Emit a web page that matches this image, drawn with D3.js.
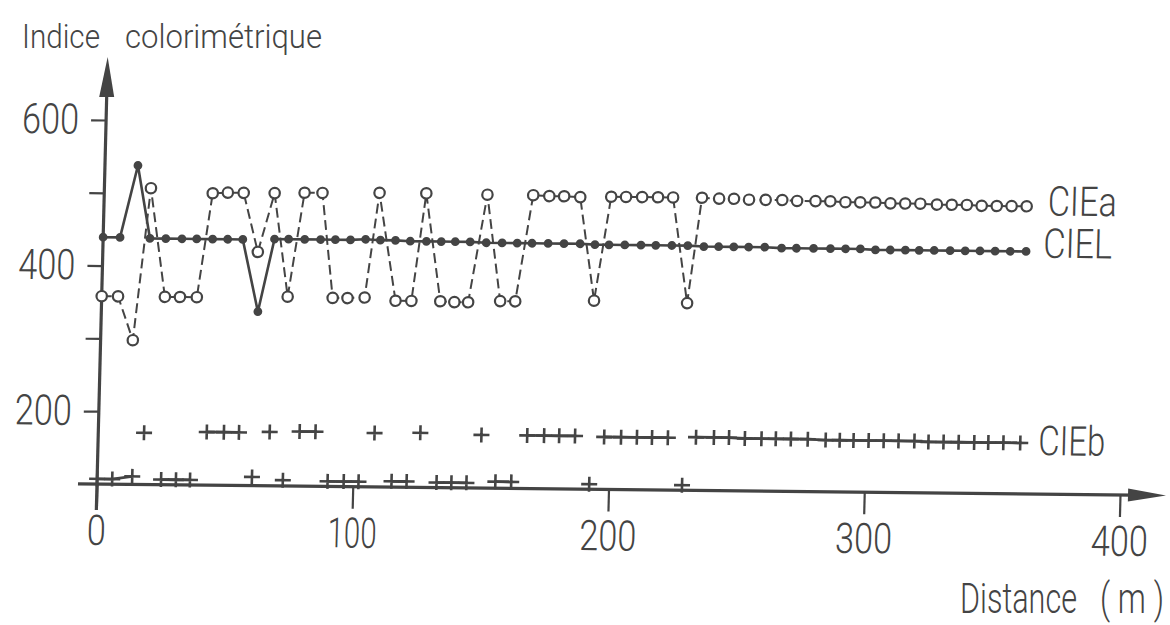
<!DOCTYPE html>
<html>
<head>
<meta charset="utf-8">
<script src="https://cdn.jsdelivr.net/npm/d3@7"></script>
<style>
  html, body { margin: 0; padding: 0; background: #fff; }
  svg text { font-family: Roboto, "DejaVu Sans Condensed", sans-serif; font-weight: 300; fill: #444; }
</style>
</head>
<body>
<svg width="1170" height="625"></svg>
<script>
'use strict';

// distances (m) and colorimetric values
var cieaDist = [0, 6.4, 12.6, 18.2, 24.7, 30.6, 37.2, 42.4, 48.3, 54.5,
    60.6, 66.6, 72.7, 78.3, 85.3, 90.3, 96.1, 102.8, 107.6, 114.9,
    121.1, 125.9, 132.4, 137.9, 143.3, 149.8, 155.8, 161.7, 167.7, 174,
    179.8, 186.1, 192.5, 198.2, 204, 210.3, 216.5, 222.4, 228.9, 233.7,
    240.4, 246.2, 252.1, 258.6, 265.1, 270.9, 278.1, 283.9, 289.8, 295.6,
    301.5, 307.4, 313.2, 319.1, 325.6, 331.4, 337.3, 343.1, 349, 354.8, 360.7];
var cieaVal = [358, 358, 298, 507, 358, 358, 358, 501, 502, 502,
    421, 502, 360, 503, 503, 359, 359, 360, 504, 356,
    356, 504, 356, 355, 355, 503, 357, 357, 503, 502,
    502, 501, 359, 502, 502, 502, 502, 502, 357, 502,
    501, 501, 500, 500, 500, 499, 499, 499, 498, 498,
    498, 497, 497, 497, 496, 496, 496, 495, 495, 495, 495];

var cielDist = [0, 6.6, 12.9, 18.3, 24.5, 30.8, 36.6, 42.8, 48.7, 54.6,
    61.2, 67, 72.5, 78.8, 85, 90.8, 96.7, 102.6, 108.4, 114.3,
    120.1, 126.4, 132.2, 137.7, 143.5, 149.8, 156, 161.9, 167.7, 174,
    180.2, 186.5, 192.3, 197.8, 204, 210.3, 216.1, 222.4, 228.6, 234.9,
    240.7, 246.6, 252.4, 258.7, 265.3, 271.1, 277.8, 284.4, 290.3, 296.1,
    302, 307.8, 313.7, 319.1, 325, 331.2, 337.1, 342.9, 348.8, 354.7, 360.9];
var cielVal = [439, 439, 538, 438, 438, 438, 438, 438, 438, 438,
    339, 439, 439, 439, 439, 439, 439, 440, 439, 439,
    438, 438, 438, 438, 438, 437, 437, 437, 437, 437,
    437, 437, 436, 436, 436, 436, 436, 436, 436, 435,
    435, 435, 435, 435, 434, 434, 434, 434, 434, 434,
    433, 433, 433, 433, 433, 433, 433, 433, 433, 433, 433];

var ciebDist = [0, 5.9, 13.7, 17.9, 25, 30.8, 36.3, 42.4, 49.1, 55,
    60.5, 67, 72.6, 78.7, 84.9, 90.1, 96.4, 102.2, 108, 115.1,
    121, 125.9, 132.7, 138.5, 144.4, 149.8, 155.7, 161.9, 167.7, 174.3,
    180.2, 186.4, 192.4, 197.8, 204.4, 210.6, 216.5, 222.7, 228.7, 233.7,
    240.7, 246.6, 252.8, 259.3, 264.9, 270.8, 277.4, 284.4, 289.9, 295.3,
    301.2, 307.1, 312.9, 319.1, 324.6, 330.5, 336.4, 342.5, 348, 353.9, 360.5];
var ciebVal = [107, 107, 111, 171, 107, 107, 107, 173, 173, 173,
    112, 174, 108, 175, 175, 107, 107, 107, 174, 108,
    108, 175, 107, 107, 107, 173, 109, 109, 173, 173,
    173, 173, 107, 172, 172, 172, 172, 172, 107, 173,
    173, 173, 172, 172, 172, 172, 172, 171, 171, 171,
    171, 171, 171, 171, 170, 170, 170, 170, 170, 170, 170];

var xTicks = [0, 100, 200, 300, 400];
var yTicks = [200, 300, 400, 500, 600];
var yLabelled = [200, 400, 600];

var INK = '#444';

var svg = d3.select('svg');

var x = d3.scaleLinear().domain([0, 400]).range([97, 1120]);
var y = d3.scaleLinear().domain([100, 600]).range([484, 120]);

function zip(ds, vs) {
    return ds.map(function(d, i) { return { d: d, v: vs[i] }; });
}
var ciea = zip(cieaDist, cieaVal);
var ciel = zip(cielDist, cielVal);
var cieb = zip(ciebDist, ciebVal);

//squeeze a text horizontally to a given width (the scan uses a narrow stencil font)
function squeeze(sel, width) {
    sel.each(function(d, i) {
        var t = d3.select(this);
        var w = this.getComputedTextLength();
        var target = typeof width === 'function' ? width.call(this, d, i) : width;
        if (w > 0 && target > 0) {
            var x0 = +t.attr('x') || 0;
            t.attr('x', 0)
                .attr('transform', 'translate(' + x0 + ',0) scale(' + (target / w) + ',1)');
        }
    });
}

function digitWidth() {
    var s = this.textContent;
    return s.length * 19 - (s.split('1').length - 1) * 8;
}

// the scanned figure is slightly sheared, so the plot sits in a skewed group
var chart = svg.append('g')
    .attr('transform', 'translate(97,484) matrix(1,0.0107,-0.025,1,0,0) translate(-97,-484)');

//axes
var axisX = d3.axisBottom(x)
    .tickValues(xTicks)
    .tickSize(22)
    .tickPadding(9);

var axisY = d3.axisLeft(y)
    .tickValues(yTicks)
    .tickSize(15)
    .tickPadding(12)
    .tickFormat(function(d) { return yLabelled.indexOf(d) >= 0 ? d : ''; });

var gx = chart.append('g')
    .attr('transform', 'translate(0,' + y(100) + ')')
    .call(axisX);
var gy = chart.append('g')
    .attr('transform', 'translate(' + x(0) + ',0)')
    .call(axisY);

[gx, gy].forEach(function(g) {
    g.select('.domain').remove();
    g.selectAll('line').attr('stroke', INK).attr('stroke-width', 2.2);
    g.selectAll('text')
        .attr('fill', INK)
        .style('font-size', '42px')
        .call(squeeze, digitWidth);
});

chart.append('line')
    .attr('x1', 78).attr('x2', 1132)
    .attr('y1', y(100)).attr('y2', y(100))
    .attr('stroke', INK).attr('stroke-width', 3.2);
chart.append('path')
    .attr('d', 'M1128,' + (y(100) - 6.5) + 'L1166,' + y(100) + 'L1128,' + (y(100) + 6.5) + 'Z')
    .attr('fill', INK);

chart.append('line')
    .attr('x1', x(0)).attr('x2', x(0))
    .attr('y1', 510).attr('y2', 92)
    .attr('stroke', INK).attr('stroke-width', 3.2);
chart.append('path')
    .attr('d', 'M' + (x(0) - 7.5) + ',97L' + x(0) + ',57L' + (x(0) + 7.5) + ',97Z')
    .attr('fill', INK);

//CIEb: plus marks, joined only between neighbours on the same level
var linkB = d3.pairs(cieb).filter(function(p) { return Math.abs(p[0].v - p[1].v) < 30; });
chart.append('g').selectAll('line')
    .data(linkB)
    .enter()
    .append('line')
    .attr('x1', function(p) { return x(p[0].d); })
    .attr('y1', function(p) { return y(p[0].v); })
    .attr('x2', function(p) { return x(p[1].d); })
    .attr('y2', function(p) { return y(p[1].v); })
    .attr('stroke', INK)
    .attr('stroke-width', 2.8);

chart.append('g').selectAll('path')
    .data(cieb)
    .enter()
    .append('path')
    .attr('transform', function(d) { return 'translate(' + x(d.d) + ',' + y(d.v) + ')'; })
    .attr('d', 'M-8,0H8M0,-7.5V7.5')
    .attr('stroke', INK)
    .attr('stroke-width', 2.6)
    .attr('fill', 'none');

var line = d3.line()
    .x(function(d) { return x(d.d); })
    .y(function(d) { return y(d.v); });

//CIEL: solid line, filled dots
chart.append('path')
    .datum(ciel)
    .attr('d', line)
    .attr('fill', 'none')
    .attr('stroke', INK)
    .attr('stroke-width', 2.6)
    .attr('stroke-linejoin', 'round');
chart.append('g').selectAll('circle')
    .data(ciel)
    .enter()
    .append('circle')
    .attr('cx', function(d) { return x(d.d); })
    .attr('cy', function(d) { return y(d.v); })
    .attr('r', 4.4)
    .attr('fill', INK);

//CIEa: dashed line, open circles
chart.append('path')
    .datum(ciea)
    .attr('d', line)
    .attr('fill', 'none')
    .attr('stroke', INK)
    .attr('stroke-width', 2)
    .attr('stroke-dasharray', '10,5');
chart.append('g').selectAll('circle')
    .data(ciea)
    .enter()
    .append('circle')
    .attr('cx', function(d) { return x(d.d); })
    .attr('cy', function(d) { return y(d.v); })
    .attr('r', 5.2)
    .attr('fill', '#fff')
    .attr('stroke', INK)
    .attr('stroke-width', 2.2);

//series names at the right end
var names = [
    { name: 'CIEa', last: ciea[ciea.length - 1], dx: 21, dy: 9, w: 69 },
    { name: 'CIEL', last: ciel[ciel.length - 1], dx: 17, dy: 6, w: 69 },
    { name: 'CIEb', last: cieb[cieb.length - 1], dx: 18, dy: 12, w: 67 }
];
chart.append('g').selectAll('text')
    .data(names)
    .enter()
    .append('text')
    .attr('x', function(d) { return x(d.last.d) + d.dx; })
    .attr('y', function(d) { return y(d.last.v) + d.dy; })
    .style('font-size', '41px')
    .text(function(d) { return d.name; })
    .call(squeeze, function(d) { return d.w; });

//axis titles
svg.append('text')
    .attr('x', 22).attr('y', 48)
    .style('font-size', '34px')
    .text('Indice')
    .call(squeeze, 78);
svg.append('text')
    .attr('x', 125).attr('y', 48)
    .style('font-size', '34px')
    .text('colorimétrique')
    .call(squeeze, 197);

svg.append('text')
    .attr('x', 960).attr('y', 613)
    .style('font-size', '42px')
    .text('Distance')
    .call(squeeze, 117);
svg.append('text')
    .attr('x', 1100).attr('y', 613)
    .style('font-size', '42px')
    .text('( m )')
    .call(squeeze, 64);
</script>
</body>
</html>
